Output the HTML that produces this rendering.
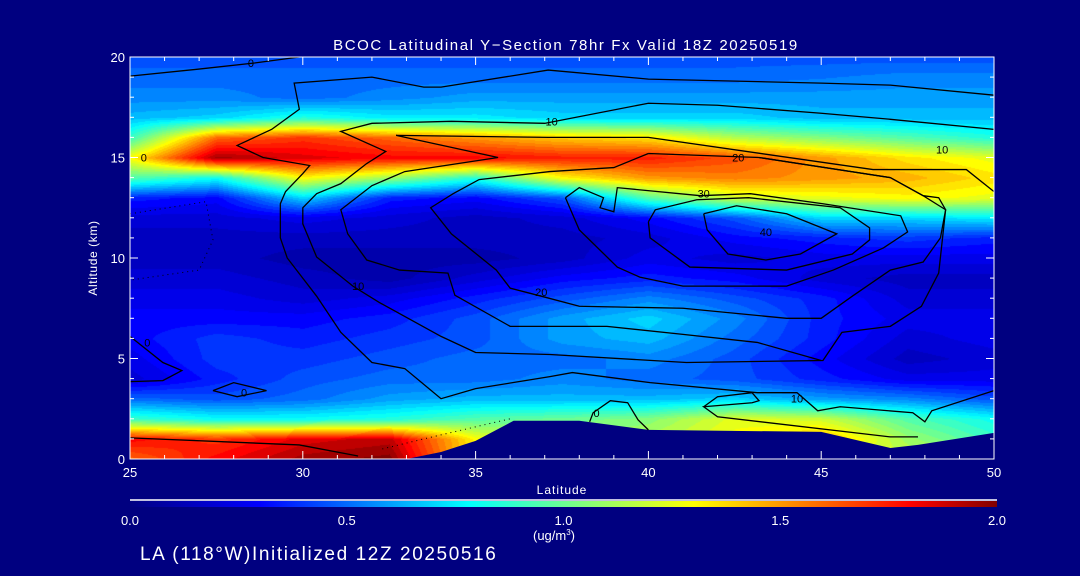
<!DOCTYPE html>
<html><head><meta charset="utf-8"><style>
html,body{margin:0;padding:0;background:#000080;}
#root{position:relative;width:1080px;height:576px;background:#000080;overflow:hidden;font-family:"Liberation Sans",sans-serif;color:#fff;}
canvas{position:absolute;left:130px;top:57px;}
svg{position:absolute;left:0;top:0;}
</style></head><body>
<div id="root">
<canvas id="heat" width="864" height="402"></canvas>
<svg id="ov" width="1080" height="576"></svg>
</div>
<script>
const lats=[25,27.5,30,32.5,35,37.5,40,42.5,45,47.5,50];
const alts=[20,19,18,17,16,15,14,13,12,11,10,9,8,7,6,5,4,3,2,1,0];
const conc=[
[0.45,0.45,0.45,0.45,0.45,0.45,0.45,0.45,0.45,0.45,0.45],
[0.5,0.5,0.5,0.5,0.5,0.5,0.5,0.5,0.52,0.55,0.55],
[0.55,0.55,0.5,0.55,0.6,0.6,0.6,0.6,0.6,0.6,0.6],
[0.65,0.7,0.85,0.75,0.75,0.7,0.7,0.7,0.65,0.65,0.65],
[0.9,1.6,1.7,1.6,1.5,1.4,1.35,1.15,1.05,0.95,0.85],
[1.3,1.95,1.85,1.8,1.8,1.75,1.75,1.65,1.5,1.35,1.25],
[0.95,0.8,1.3,1.1,0.85,1.3,1.5,1.55,1.5,1.45,1.35],
[0.35,0.3,0.7,0.35,0.3,0.45,0.95,1.2,1.25,1.3,1.25],
[0.2,0.2,0.25,0.2,0.15,0.2,0.3,0.45,0.7,0.7,0.75],
[0.15,0.15,0.15,0.15,0.15,0.15,0.2,0.3,0.35,0.4,0.35],
[0.15,0.15,0.1,0.1,0.1,0.15,0.25,0.2,0.25,0.25,0.25],
[0.2,0.2,0.15,0.1,0.2,0.3,0.35,0.3,0.2,0.15,0.15],
[0.25,0.25,0.2,0.25,0.35,0.45,0.55,0.45,0.35,0.2,0.2],
[0.3,0.3,0.3,0.35,0.45,0.6,0.7,0.55,0.35,0.25,0.25],
[0.3,0.4,0.35,0.4,0.45,0.6,0.65,0.5,0.35,0.2,0.25],
[0.25,0.4,0.4,0.45,0.5,0.5,0.55,0.45,0.3,0.15,0.2],
[0.2,0.35,0.45,0.5,0.5,0.55,0.5,0.45,0.35,0.25,0.25],
[0.5,0.45,0.5,0.6,0.65,0.65,0.65,0.7,0.6,0.55,0.45],
[0.9,0.8,0.8,0.85,0.95,1.0,1.05,1.25,1.2,0.95,0.8],
[1.8,1.7,1.85,1.9,1.3,1.1,1.15,1.3,1.45,1.1,0.9],
[1.6,1.8,1.95,2.0,1.3,1.2,1.2,1.2,1.2,1.2,1.2]];
const terrainLat=[33,34,35,36.1,38,40,45,47,47.8,50];
const terrainAlt=[0,0.35,0.9,1.9,1.9,1.45,1.35,0.55,0.7,1.3];
const xTicks=[25,30,35,40,45,50];
const yTicks=[0,5,10,15,20];
const cbTicks=["0.0","0.5","1.0","1.5","2.0"];
const contours=[
 {lat:[25,27,28.6,29.9],alt:[19.05,19.4,19.7,20]},
 {lat:[50,47,45,40,37.1,34,33.5,32,29.75,29.9,29.1,28.1,28.85,30.2,30,29.5,29.35,29.35,29.55,30.4,31.1,32,32.95,34,35,37.15,37.8,40.05,43.15,44.3,44.9,45.55,47.65,48,48.2,50],
  alt:[18.1,18.6,18.7,18.9,19.35,18.5,18.5,19,18.7,17.4,16.4,15.6,15,14.6,14.2,13.3,12.7,11,10,8.1,6.3,4.8,4.5,3,3.5,4.1,4.3,3.8,3.3,3.3,2.4,2.6,2.3,1.85,2.4,3.4]},
 {lat:[50,47,45,42,40,37,34.3,32,31.1,32.4,31.85,31.1,30.4,30,30,30.4,31.45,32.2,34,35,37.15,41.1,45.05,45.6,47,47.9,48.4,48.6,48.4,47.95,47,43.2],
  alt:[16.4,16.9,17.2,17.6,17.7,16.7,16.8,16.7,16.3,15.3,14.7,13.7,13.2,12.5,11.7,10.05,8.6,7.8,6.1,5.3,5.2,4.8,4.9,6.3,6.6,7.6,9.25,12.4,13,13.1,14,15]},
 {lat:[50,49.2,46.5,40,37.1,32.7,35.65,32.95,32,31.1,31.3,31.85,32.8,34.2,34.4,36,37.15,38.8,41,43.15,45],
  alt:[13.3,14.4,14.4,16,16,16.1,15,14.3,13.6,12.4,11.2,9.9,9.4,9.25,8.15,6.6,6.6,6.6,6.2,5.8,4.9]},
 {lat:[40,43.2,47,47.95,48.6,48.45,47.95,47,45.9,45,44,41,38,36.9,36,35.6,34.3,33.7,34.35,35.1,37.15,39,40],
  alt:[15.2,15,14,13.1,12.4,11,9.8,9.4,8.1,7,7,7.5,7.6,8.1,8.5,9.4,11.2,12.5,13.2,13.9,14.3,14.5,15.2]},
 {lat:[37.6,38,38.7,38.6,39,39.1,41.5,42.95,45.05,47.3,47.5,46.8,45.35,44,41,39.75,39.1,38,37.6],
  alt:[13,13.5,13,12.5,12.3,13.5,13.1,13.2,12.7,12.1,11.3,10.5,9.4,8.6,8.6,9.05,9.55,11.4,13]},
 {lat:[40,40.2,41.4,42.9,45.55,46.4,46.4,45.9,44,41.2,40.05,40],alt:[11.8,12.4,12.9,13,12.5,11.5,10.9,10.2,9.4,9.55,11,11.8]},
 {lat:[41.6,42.55,44,45.45,44.4,43.4,42.3,41.7,41.6],alt:[12.2,12.6,12.2,11.2,10.2,9.9,10.2,11.4,12.2]},
 {lat:[38.3,38.4,38.9,39.4,39.7,40],alt:[1.85,2.3,2.9,2.8,1.95,1.45]},
 {lat:[41.6,42,43,43.2,43,41.6,42,47,47.8],alt:[2.6,3.1,3.3,2.9,2.8,2.6,2.1,1.1,1.1]},
 {lat:[25,25.95,26.5,25.95,25],alt:[3.85,3.9,4.4,4.8,6.1]},
 {lat:[25,29.9,31.6],alt:[1.05,0.7,0.15]},
 {lat:[27.4,28,28.95,28.1,27.4],alt:[3.4,3.8,3.4,3.1,3.4]},
 {lat:[25,27.2,27.4,27,25],alt:[12.2,12.8,10.9,9.4,8.9],dot:true},
 {lat:[32.3,33.5,35,36],alt:[0.5,1.0,1.6,2.0],dot:true}
];
const labels=[{t:"0",lat:28.5,alt:19.7},{t:"0",lat:25.4,alt:15.0},{t:"10",lat:37.2,alt:16.8},{t:"20",lat:42.6,alt:15.0},{t:"30",lat:41.6,alt:13.2},{t:"40",lat:43.4,alt:11.3},{t:"10",lat:48.5,alt:15.4},{t:"10",lat:31.6,alt:8.6},{t:"20",lat:36.9,alt:8.3},{t:"10",lat:44.3,alt:3.0},{t:"0",lat:38.5,alt:2.3},{t:"0",lat:28.3,alt:3.3},{t:"0",lat:25.5,alt:5.8}];

const X0=130,X1=994,Y0=459,Y1=57;
const xs=v=>X0+(v-25)/25*(X1-X0);
const ys=v=>Y0-v/20*(Y0-Y1);
const stops=[[0,0,0,130],[0.3,0,0,255],[0.78,0,255,255],[1.3,255,255,0],[1.8,255,0,0],[2.0,128,0,0]];
function cmap(v){v=Math.max(0,Math.min(2,v));for(let i=1;i<stops.length;i++){if(v<=stops[i][0]){const a=stops[i-1],b=stops[i],t=(v-a[0])/(b[0]-a[0]);return [a[1]+(b[1]-a[1])*t,a[2]+(b[2]-a[2])*t,a[3]+(b[3]-a[3])*t];}}return [128,0,0];}
function sample(lat,alt){
 let fi=(lat-lats[0])/(lats[1]-lats[0]);fi=Math.max(0,Math.min(lats.length-1.0001,fi));
 let fj=(alts[0]-alt)/(alts[0]-alts[1]);fj=Math.max(0,Math.min(alts.length-1.0001,fj));
 const i=Math.floor(fi),j=Math.floor(fj),u=fi-i,w=fj-j;
 return conc[j][i]*(1-u)*(1-w)+conc[j][i+1]*u*(1-w)+conc[j+1][i]*(1-u)*w+conc[j+1][i+1]*u*w;
}
const cv=document.getElementById('heat'),ctx=cv.getContext('2d');
const img=ctx.createImageData(864,402);
for(let py=0;py<402;py++){for(let px=0;px<864;px++){
 const lat=25+px/864*25,alt=20-py/402*20;
 let v=sample(lat,alt);v=Math.round(v/0.05)*0.05;
 const c=cmap(v),k=(py*864+px)*4;img.data[k]=c[0];img.data[k+1]=c[1];img.data[k+2]=c[2];img.data[k+3]=255;}}
ctx.putImageData(img,0,0);
const NS="http://www.w3.org/2000/svg",ov=document.getElementById('ov');
function mk(tag,attrs,parent){const e=document.createElementNS(NS,tag);for(const k in attrs)e.setAttribute(k,attrs[k]);(parent||ov).appendChild(e);return e;}
let tp=terrainLat.map((l,i)=>xs(l)+","+ys(terrainAlt[i])).join(" ")+" "+xs(50)+","+Y0+" "+xs(33)+","+Y0;
const terr=mk('polygon',{points:tp,fill:'#000080'});


contours.forEach(c=>{
 const pl=mk('polyline',{points:c.lat.map((l,i)=>xs(l)+","+ys(c.alt[i])).join(" "),fill:'none',stroke:'#000','stroke-width':c.dot?1:1.3,'stroke-dasharray':c.dot?'1,4':'none'});
 
 
});
labels.forEach(L=>{
 const t=mk('text',{x:xs(L.lat),y:ys(L.alt)+4,'font-size':11,fill:'#000','text-anchor':'middle'});t.textContent=L.t;
 
 
});
const fr=mk('rect',{x:X0,y:Y1,width:X1-X0,height:Y0-Y1,fill:'none',stroke:'#fff','stroke-width':1});


for(let l=25;l<=50;l++){const big=l%5==0,len=big?8:4;
 const a=mk('line',{x1:xs(l),x2:xs(l),y1:Y0,y2:Y0-len,stroke:'#fff'});
 const b=mk('line',{x1:xs(l),x2:xs(l),y1:Y1,y2:Y1+len,stroke:'#fff'});}
for(let a=0;a<=20;a++){const big=a%5==0,len=big?8:4;
 const l1=mk('line',{x1:X0,x2:X0+len,y1:ys(a),y2:ys(a),stroke:'#fff'});
 const l2=mk('line',{x1:X1,x2:X1-len,y1:ys(a),y2:ys(a),stroke:'#fff'});}
xTicks.forEach(v=>{const t=mk('text',{x:xs(v),y:477,'font-size':13,fill:'#fff','text-anchor':'middle'});t.textContent=v;
 });
yTicks.forEach(v=>{const t=mk('text',{x:125,y:ys(v)+5,'font-size':13,fill:'#fff','text-anchor':'end'});t.textContent=v;
 });
function txt(s,attrs,name){const t=mk('text',attrs);t.textContent=s;return t;}
txt("BCOC Latitudinal Y\u2212Section 78hr  Fx Valid 18Z 20250519",{x:566,y:50,'font-size':15,fill:'#fff','text-anchor':'middle','letter-spacing':1.6,'xml:space':'preserve'},'chart-title');
txt("Altitude (km)",{x:97,y:258,'font-size':12,fill:'#fff','text-anchor':'middle','letter-spacing':0.6,transform:'rotate(-90 97 258)'},'y-axis-title');
txt("Latitude",{x:562,y:494,'font-size':12,fill:'#fff','text-anchor':'middle','letter-spacing':1},'x-axis-title');
const defs=mk('defs',{});const g=mk('linearGradient',{id:'cb',x1:0,x2:1,y1:0,y2:0},defs);
stops.forEach(s=>mk('stop',{offset:(s[0]/2*100)+'%','stop-color':`rgb(${s[1]},${s[2]},${s[3]})`},g));
const cbl=mk('line',{x1:130,x2:997,y1:500,y2:500,stroke:'#fff','stroke-width':1.5});
const cb=mk('rect',{x:130,y:501,width:867,height:6,fill:'url(#cb)'});
cbTicks.forEach((s,i)=>{txt(s,{x:130+i*216.75,y:525,'font-size':13,fill:'#fff','text-anchor':'middle'},'colorbar-tick-label');});
const u=txt("(ug/m",{x:554,y:540,'font-size':13,fill:'#fff','text-anchor':'middle'},'colorbar-units');
const sup=mk('tspan',{'font-size':8,dy:-5},u);sup.textContent="3";const cl=mk('tspan',{dy:5},u);cl.textContent=")";
txt("LA (118\u00b0W)Initialized 12Z 20250516",{x:140,y:560,'font-size':19,fill:'#fff','letter-spacing':1.6},'init-info');
</script>
</body></html>
